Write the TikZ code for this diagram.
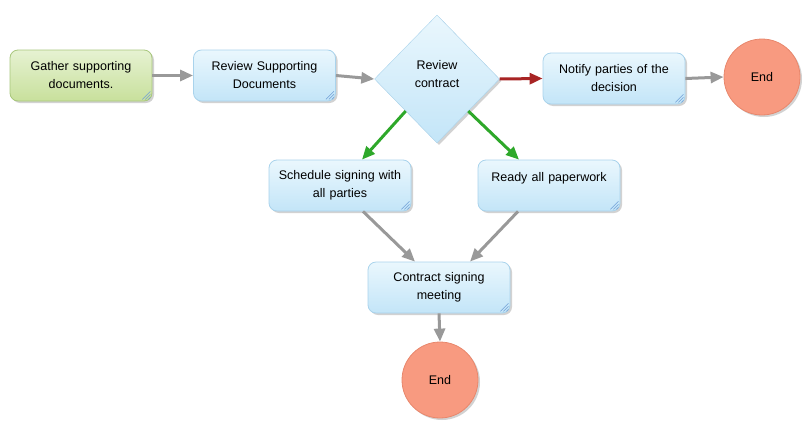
\documentclass[tikz,border=0pt]{standalone}
\usepackage{fontspec}
\setmainfont{Liberation Sans}
\usetikzlibrary{arrows.meta, shapes.geometric, shadows}
\definecolor{boxtop}{HTML}{EAF7FD}
\definecolor{boxbot}{HTML}{C3E5F8}
\definecolor{boxline}{HTML}{A9D3EC}
\definecolor{greentop}{HTML}{E6F2D2}
\definecolor{greenbot}{HTML}{C8E09C}
\definecolor{greenline}{HTML}{A8C77C}
\definecolor{endfill}{HTML}{F89A80}
\definecolor{endline}{HTML}{E8876C}
\definecolor{arrgray}{HTML}{999999}
\definecolor{arrred}{HTML}{A82424}
\definecolor{arrgreen}{HTML}{2EA82A}
\definecolor{gripblue}{HTML}{6F9FD6}

\begin{document}
\begin{tikzpicture}[x=1pt, y=-1pt,
        every node/.style={font=\fontsize{12.5}{18}\selectfont},
        shade/.style={drop shadow={shadow xshift=2pt, shadow yshift=-2pt,
                      opacity=0.25, fill=black!70}},
        box/.style={rectangle, rounded corners=8pt, draw=boxline, thick,
                    top color=boxtop, bottom color=boxbot, text width=128pt,
                    inner xsep=7pt, minimum height=51pt, align=center, shade},
        gbox/.style={box, draw=greenline, top color=greentop, bottom color=greenbot},
        decide/.style={diamond, draw=boxline, top color=boxtop, bottom color=boxbot,
                    minimum width=125pt, minimum height=128pt, inner sep=0pt,
                    align=center, text depth=10pt, shade},
        stop/.style={circle, draw=endline, thick, fill=endfill, minimum size=76pt, shade},
        arr/.style={-{Triangle[length=13pt,width=11pt]}, line width=3pt, arrgray},
        grip/.style={gripblue, line width=0.6pt}
    ]
        \useasboundingbox (0,0) rectangle (808,426);
        \node[gbox] (gath)  at (81,75.5)  {Gather supporting\\documents.};
        \node[box] (rev)    at (264.5,75.5) {Review Supporting\\Documents};
        \node[decide] (diam) at (437,79)  {Review\\contract};
        \node[box] (notif)  at (614,78.5) {Notify parties of the\\decision};
        \node[stop] (end1)  at (762,77)   {End};
        \node[box] (sched)  at (340,185.5) {Schedule signing with\\all parties};
        \node[box] (ready)  at (549,185.5) {Ready all paperwork\\~};
        \node[box] (contr)  at (439,287.5) {Contract signing\\meeting};
        \node[stop] (end2)  at (440,380)  {End};
        % resize grips
        \foreach \n in {gath,rev,notif,sched,ready,contr}
            \foreach \d in {4,7,10}
                \draw[grip] ([shift={(-\d,-2)}]\n.south east) -- ([shift={(-2,-\d)}]\n.south east);
        % connectors
        \draw[arr] (gath.east) -- (rev.west);
        \draw[arr] (rev.east) -- (diam.west);
        \draw[arr, arrred] (diam.east) -- (notif.west);
        \draw[arr] (notif.east) -- (end1.west);
        \draw[arr, arrgreen] (diam.south west) -- ([xshift=22pt]sched.north);
        \draw[arr, arrgreen] (diam.south east) -- ([xshift=-30pt]ready.north);
        \draw[arr] ([xshift=23pt]sched.south) -- ([xshift=-24pt]contr.north);
        \draw[arr] ([xshift=-31pt]ready.south) -- ([xshift=31pt]contr.north);
        \draw[arr] (contr.south) -- (end2.north);
    \end{tikzpicture}
\end{document}
